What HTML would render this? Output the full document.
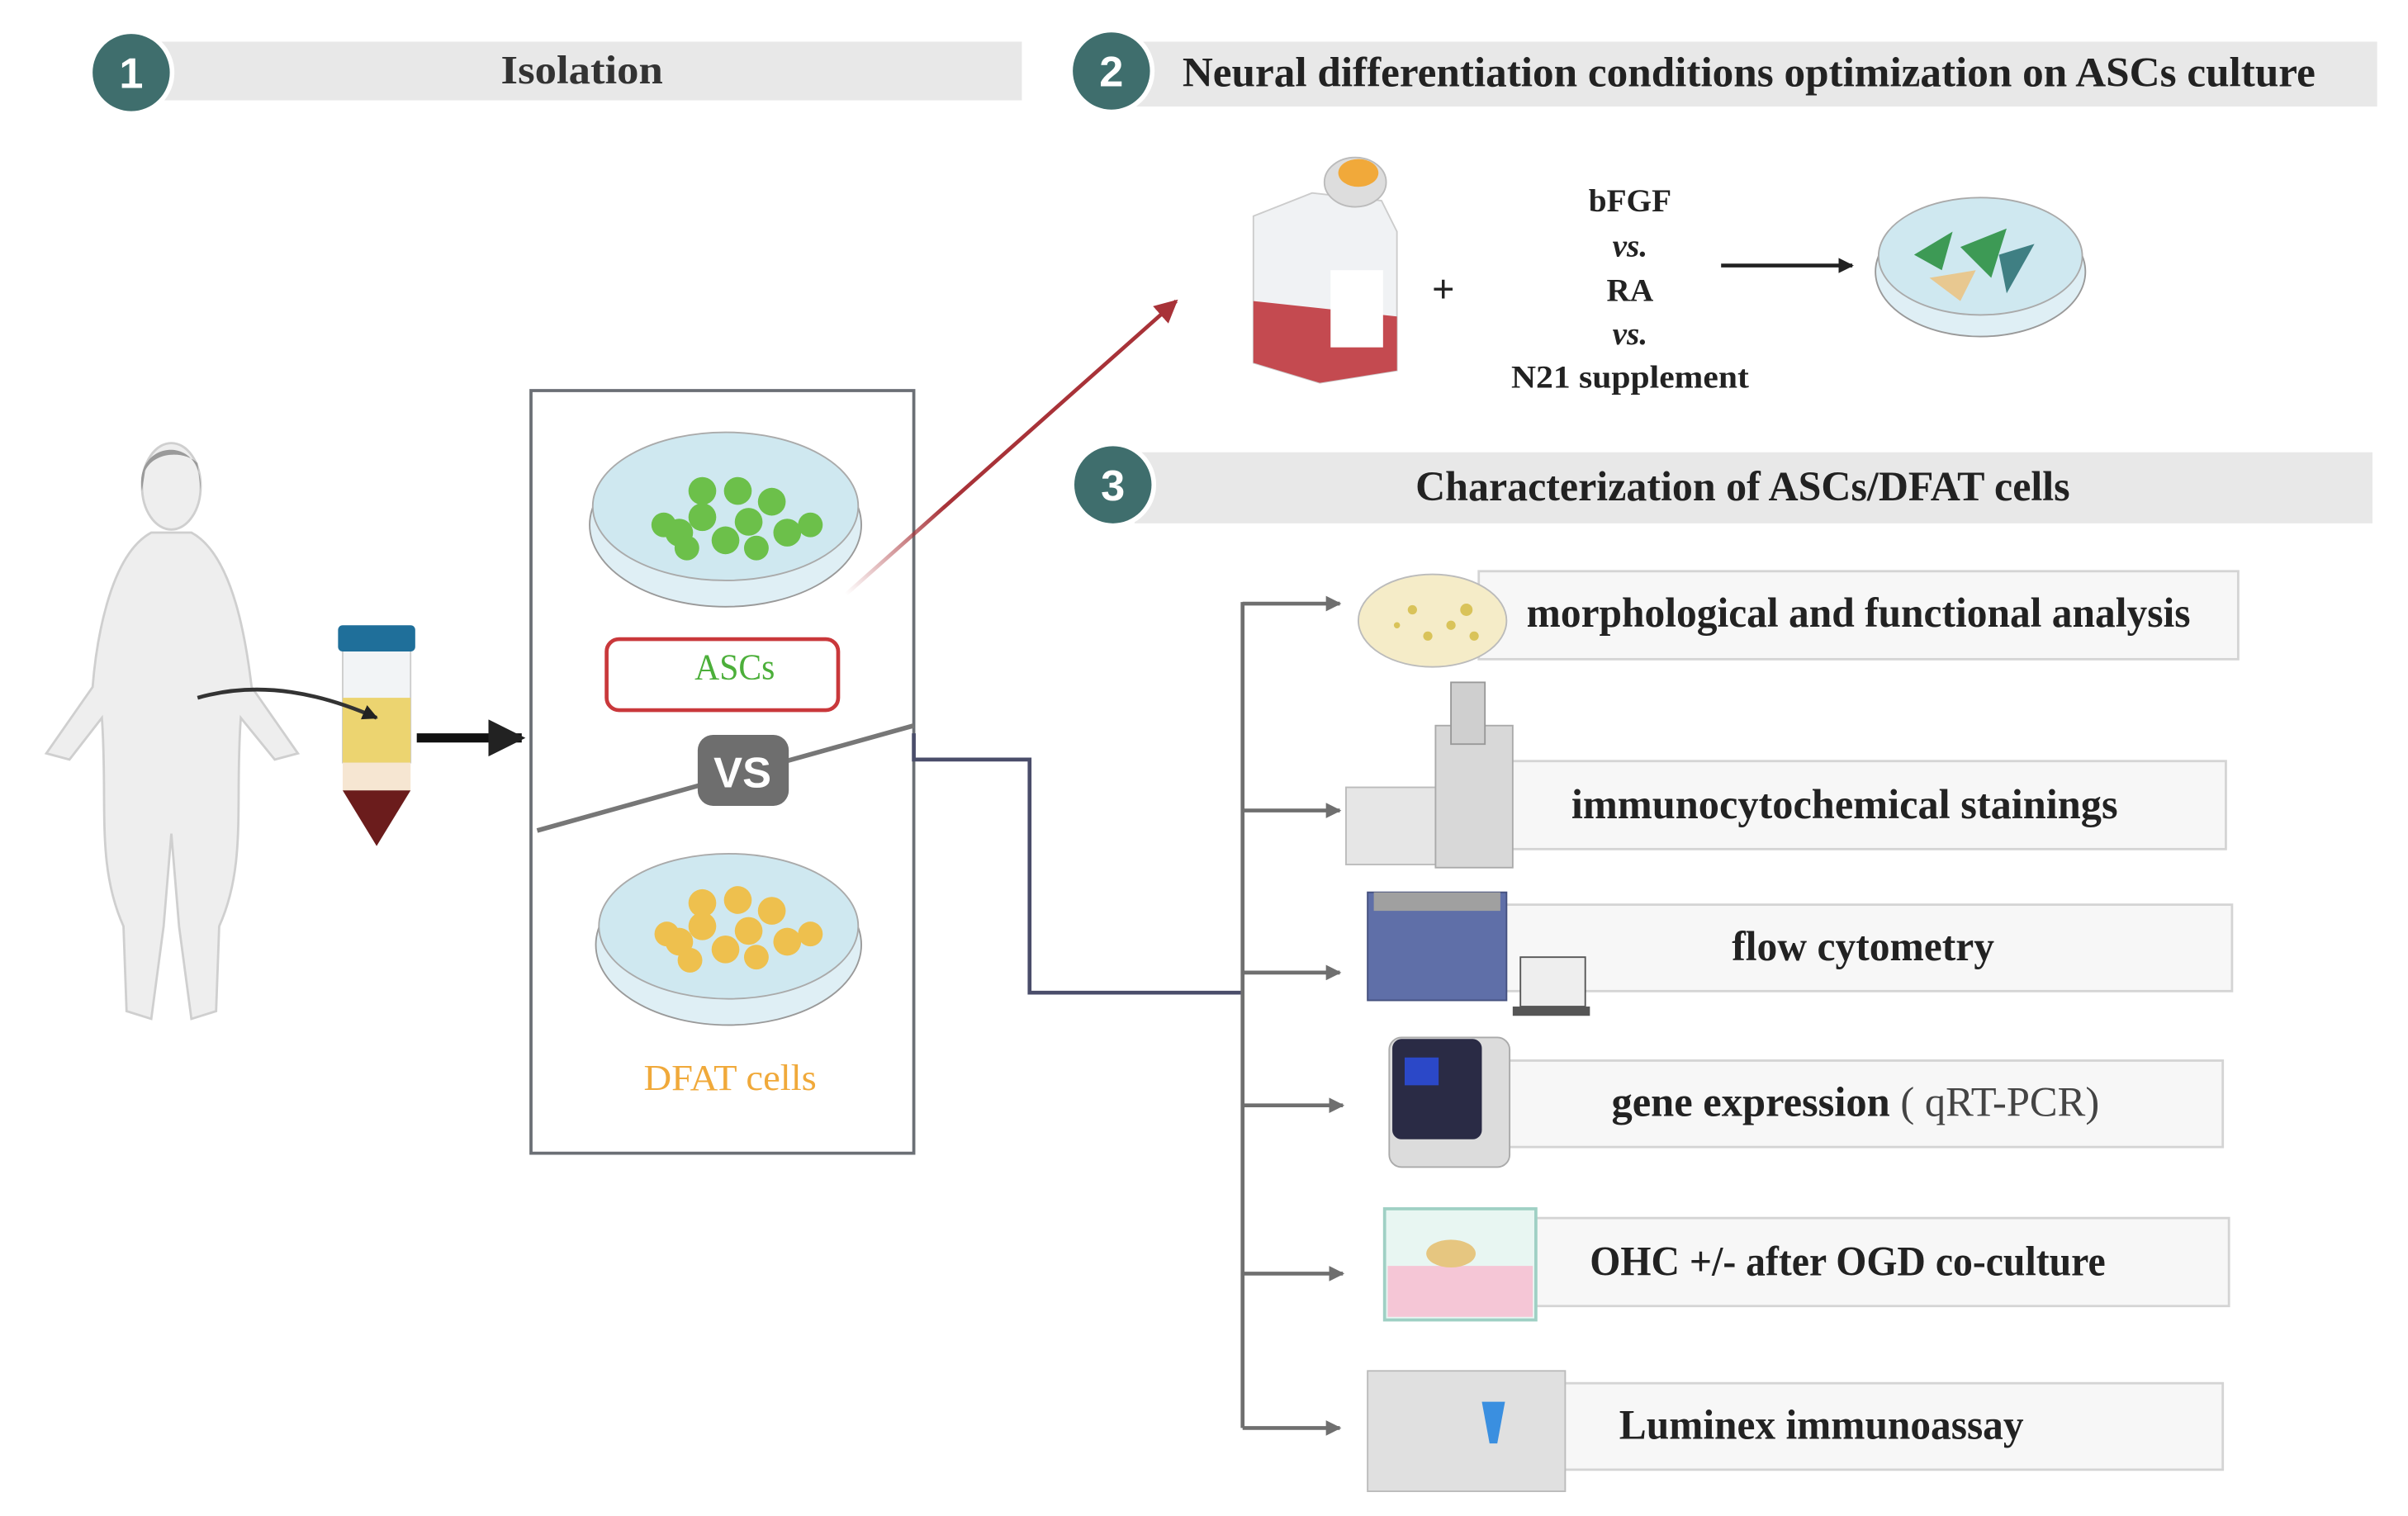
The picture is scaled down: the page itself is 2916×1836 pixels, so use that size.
<!DOCTYPE html>
<html><head><meta charset="utf-8"><style>html,body{margin:0;padding:0;background:#fff}svg{display:block}text{font-family:"Liberation Serif",serif;fill:#222}</style></head>
<body>
<svg width="2916" height="1836" viewBox="0 0 1560 982" preserveAspectRatio="none" xmlns="http://www.w3.org/2000/svg">
<defs>
<marker id="ag" viewBox="0 0 10 10" refX="9" refY="5" markerWidth="4" markerHeight="4" orient="auto"><path d="M0,0L10,5L0,10z" fill="#6f6f6f"/></marker>
<marker id="ak" viewBox="0 0 10 10" refX="9" refY="5" markerWidth="4" markerHeight="4" orient="auto"><path d="M0,0L10,5L0,10z" fill="#222"/></marker>
<marker id="ar" viewBox="0 0 10 10" refX="9" refY="5" markerWidth="6" markerHeight="6" orient="auto"><path d="M0,0L10,5L0,10z" fill="#a83238"/></marker>
<linearGradient id="rg" x1="0" y1="1" x2="1" y2="0"><stop offset="0" stop-color="#a83238" stop-opacity="0"/><stop offset="0.3" stop-color="#a83238"/></linearGradient>
</defs>
<!-- headers -->
<rect x="100" y="27" width="562" height="38" fill="#e8e8e8"/>
<circle cx="85" cy="47" r="28" fill="#fff"/><circle cx="85" cy="47" r="25" fill="#3f6e6d"/>
<text x="85" y="57" text-anchor="middle" font-size="28" font-weight="bold" style="fill:#fff;font-family:'Liberation Sans',sans-serif">1</text>
<text x="377" y="54" text-anchor="middle" font-size="26" font-weight="bold" textLength="105" lengthAdjust="spacingAndGlyphs" style="fill:#333">Isolation</text>
<rect x="730" y="27" width="810" height="42" fill="#e8e8e8"/>
<circle cx="720" cy="46" r="28" fill="#fff"/><circle cx="720" cy="46" r="25" fill="#3f6e6d"/>
<text x="720" y="56" text-anchor="middle" font-size="28" font-weight="bold" style="fill:#fff;font-family:'Liberation Sans',sans-serif">2</text>
<text x="766" y="56" font-size="27" font-weight="bold" textLength="734" lengthAdjust="spacingAndGlyphs">Neural differentiation conditions optimization on ASCs culture</text>
<rect x="735" y="293" width="802" height="46" fill="#e8e8e8"/>
<circle cx="721" cy="314" r="28" fill="#fff"/><circle cx="721" cy="314" r="25" fill="#3f6e6d"/>
<text x="721" y="324" text-anchor="middle" font-size="28" font-weight="bold" style="fill:#fff;font-family:'Liberation Sans',sans-serif">3</text>
<text x="917" y="324" font-size="27" font-weight="bold" textLength="424" lengthAdjust="spacingAndGlyphs">Characterization of ASCs/DFAT cells</text>
<!-- person -->
<g fill="#eeeeee" stroke="#cfcfcf" stroke-width="1.5">
<path d="M98,345 C70,360 62,420 60,445 L30,488 L45,492 L66,465 C70,520 62,560 80,600 L82,655 L98,660 L106,600 L111,540 L116,600 L124,660 L140,655 L142,600 C160,560 152,520 156,465 L178,492 L193,488 L163,445 C160,420 152,360 124,345 Z"/>
<ellipse cx="111" cy="315" rx="19" ry="28"/>
</g>
<path d="M92,318 C86,285 132,280 130,318 L128,300 C120,292 100,292 94,305 Z" fill="#9a9a9a"/>
<!-- tube -->
<rect x="222" y="416" width="44" height="78" fill="#f2f4f6" stroke="#ccc"/>
<rect x="222" y="452" width="44" height="42" fill="#ecd470"/>
<rect x="222" y="494" width="44" height="18" fill="#f6e6d2"/>
<path d="M222,512 L266,512 L244,548 Z" fill="#6b1c1c"/>
<rect x="219" y="405" width="50" height="17" rx="3" fill="#1f6f9a"/>
<path d="M128,452 C170,440 210,450 244,465" fill="none" stroke="#333" stroke-width="2.5" marker-end="url(#ak)"/>
<line x1="270" y1="478" x2="338" y2="478" stroke="#111" stroke-width="6" marker-end="url(#ak)"/>
<!-- box -->
<rect x="344" y="253" width="248" height="494" fill="none" stroke="#6b6f75" stroke-width="2"/>
<g>
<ellipse cx="470" cy="340" rx="88" ry="53" fill="#dfeff5" stroke="#999"/>
<ellipse cx="470" cy="328" rx="86" ry="48" fill="#cfe8f0" stroke="#aaa"/>
<g fill="#6cc04a"><circle cx="440" cy="345" r="9"/><circle cx="455" cy="335" r="9"/><circle cx="470" cy="350" r="9"/><circle cx="485" cy="338" r="9"/><circle cx="500" cy="325" r="9"/><circle cx="455" cy="318" r="9"/><circle cx="478" cy="318" r="9"/><circle cx="510" cy="345" r="9"/><circle cx="525" cy="340" r="8"/><circle cx="430" cy="340" r="8"/><circle cx="445" cy="355" r="8"/><circle cx="490" cy="355" r="8"/></g>
</g>
<rect x="393" y="414" width="150" height="46" rx="8" fill="#fff" stroke="#c9383b" stroke-width="2.5"/>
<text x="476" y="440" text-anchor="middle" font-size="24" lengthAdjust="spacingAndGlyphs" textLength="52" style="fill:#4caf3a">ASCs</text>
<line x1="348" y1="538" x2="592" y2="470" stroke="#777" stroke-width="3"/>
<rect x="452" y="476" width="59" height="46" rx="10" fill="#6e6e6e"/>
<text x="481" y="510" text-anchor="middle" font-size="28" font-weight="bold" style="fill:#fff;font-family:'Liberation Sans',sans-serif">VS</text>
<g>
<ellipse cx="472" cy="612" rx="86" ry="52" fill="#dfeff5" stroke="#999"/>
<ellipse cx="472" cy="600" rx="84" ry="47" fill="#cfe8f0" stroke="#aaa"/>
<g fill="#eec04e"><circle cx="440" cy="610" r="9"/><circle cx="455" cy="600" r="9"/><circle cx="470" cy="615" r="9"/><circle cx="485" cy="603" r="9"/><circle cx="500" cy="590" r="9"/><circle cx="455" cy="585" r="9"/><circle cx="478" cy="583" r="9"/><circle cx="510" cy="610" r="9"/><circle cx="525" cy="605" r="8"/><circle cx="432" cy="605" r="8"/><circle cx="447" cy="622" r="8"/><circle cx="490" cy="620" r="8"/></g>
</g>
<text x="473" y="706" text-anchor="middle" font-size="24" textLength="112" lengthAdjust="spacingAndGlyphs" style="fill:#f0a93a">DFAT cells</text>
<!-- red arrow -->
<line x1="548" y1="385" x2="762" y2="195" stroke="url(#rg)" stroke-width="2.5" marker-end="url(#ar)"/>
<!-- section 2 -->
<path d="M812,140 L850,125 L895,130 L905,150 L905,240 L855,248 L812,235 Z" fill="#f0f2f4" stroke="#ccc"/>
<path d="M812,195 L905,205 L905,240 L855,248 L812,235 Z" fill="#c44a50"/>
<rect x="862" y="175" width="34" height="50" fill="#fff"/>
<ellipse cx="878" cy="118" rx="20" ry="16" fill="#ddd" stroke="#bbb"/>
<ellipse cx="880" cy="112" rx="13" ry="9" fill="#f1a93a"/>
<text x="935" y="196" text-anchor="middle" font-size="26" font-weight="bold">+</text>
<g font-size="21" text-anchor="middle" font-weight="bold"><text x="1056" y="137">bFGF</text><text x="1056" y="166" font-style="italic">vs.</text><text x="1056" y="195">RA</text><text x="1056" y="223" font-style="italic">vs.</text><text x="1056" y="251" textLength="154" lengthAdjust="spacingAndGlyphs">N21 supplement</text></g>
<line x1="1115" y1="172" x2="1200" y2="172" stroke="#222" stroke-width="2.5" marker-end="url(#ak)"/>
<ellipse cx="1283" cy="176" rx="68" ry="42" fill="#dfeff5" stroke="#999"/>
<ellipse cx="1283" cy="166" rx="66" ry="38" fill="#cfe8f0" stroke="#aaa"/>
<g fill="#3d9a55"><path d="M1240,165 L1265,150 L1258,175Z"/><path d="M1270,160 L1300,148 L1290,180Z"/><path d="M1295,165 L1318,158 L1300,190Z" fill="#3f7f83"/><path d="M1250,180 L1280,175 L1270,195Z" fill="#e8c890"/></g>
<!-- section 3 connectors -->
<polyline points="592,475 592,492 667,492 667,643 805,643" fill="none" stroke="#4a4d6a" stroke-width="2.5"/>
<line x1="805" y1="390" x2="805" y2="925" stroke="#6f6f6f" stroke-width="2.5"/>
<g stroke="#6f6f6f" stroke-width="2.5" marker-end="url(#ag)">
<line x1="805" y1="391" x2="868" y2="391"/><line x1="805" y1="525" x2="868" y2="525"/><line x1="805" y1="630" x2="868" y2="630"/><line x1="805" y1="716" x2="870" y2="716"/><line x1="805" y1="825" x2="870" y2="825"/><line x1="805" y1="925" x2="868" y2="925"/>
</g>
<g fill="#f7f7f7" stroke="#d4d4d4" stroke-width="1.5">
<rect x="958" y="370" width="492" height="57"/><rect x="958" y="493" width="484" height="57"/><rect x="975" y="586" width="471" height="56"/><rect x="975" y="687" width="465" height="56"/><rect x="990" y="789" width="454" height="57"/><rect x="1010" y="896" width="430" height="56"/>
</g>
<!-- icons -->
<ellipse cx="928" cy="402" rx="48" ry="30" fill="#f5ecc8" stroke="#bbb"/>
<g fill="#d9c35a"><circle cx="915" cy="395" r="3"/><circle cx="940" cy="405" r="3"/><circle cx="950" cy="395" r="4"/><circle cx="925" cy="412" r="3"/><circle cx="905" cy="405" r="2"/><circle cx="955" cy="412" r="3"/></g>
<rect x="872" y="510" width="60" height="50" fill="#e6e6e6" stroke="#bbb"/>
<rect x="930" y="470" width="50" height="92" fill="#d8d8d8" stroke="#aaa"/>
<rect x="940" y="442" width="22" height="40" fill="#cfcfcf" stroke="#999"/>
<rect x="886" y="578" width="90" height="70" fill="#5f6fa8" stroke="#44507e"/>
<rect x="890" y="578" width="82" height="12" fill="#a0a0a0"/>
<rect x="985" y="620" width="42" height="32" fill="#eee" stroke="#555"/>
<rect x="980" y="652" width="50" height="6" fill="#555"/>
<rect x="900" y="672" width="78" height="84" rx="8" fill="#dcdcdc" stroke="#aaa"/>
<rect x="902" y="673" width="58" height="65" rx="6" fill="#2a2b45"/>
<rect x="910" y="685" width="22" height="18" fill="#2b48c8"/>
<rect x="897" y="783" width="98" height="72" fill="#e8f6f2" stroke="#9fd0c4" stroke-width="2"/>
<rect x="899" y="820" width="94" height="33" fill="#f5c6d6"/>
<ellipse cx="940" cy="812" rx="16" ry="9" fill="#e6c680"/>
<rect x="886" y="888" width="128" height="78" fill="#e0e0e0" stroke="#bbb"/>
<path d="M960,908 L975,908 L970,935 L965,935 Z" fill="#3a8fe0"/>
<g font-size="27" text-anchor="middle" font-weight="bold" lengthAdjust="spacingAndGlyphs">
<text x="1204" y="406" textLength="430" lengthAdjust="spacingAndGlyphs">morphological and functional analysis</text>
<text x="1195" y="530" textLength="354" lengthAdjust="spacingAndGlyphs">immunocytochemical stainings</text>
<text x="1207" y="622" textLength="170" lengthAdjust="spacingAndGlyphs">flow cytometry</text>
<text x="1202" y="723" textLength="316" lengthAdjust="spacingAndGlyphs">gene expression <tspan style="fill:#444" font-weight="normal">( qRT-PCR)</tspan></text>
<text x="1197" y="826" textLength="334" lengthAdjust="spacingAndGlyphs">OHC +/- after OGD co-culture</text>
<text x="1180" y="932" textLength="262" lengthAdjust="spacingAndGlyphs">Luminex immunoassay</text>
</g>
</svg>
</body></html>
